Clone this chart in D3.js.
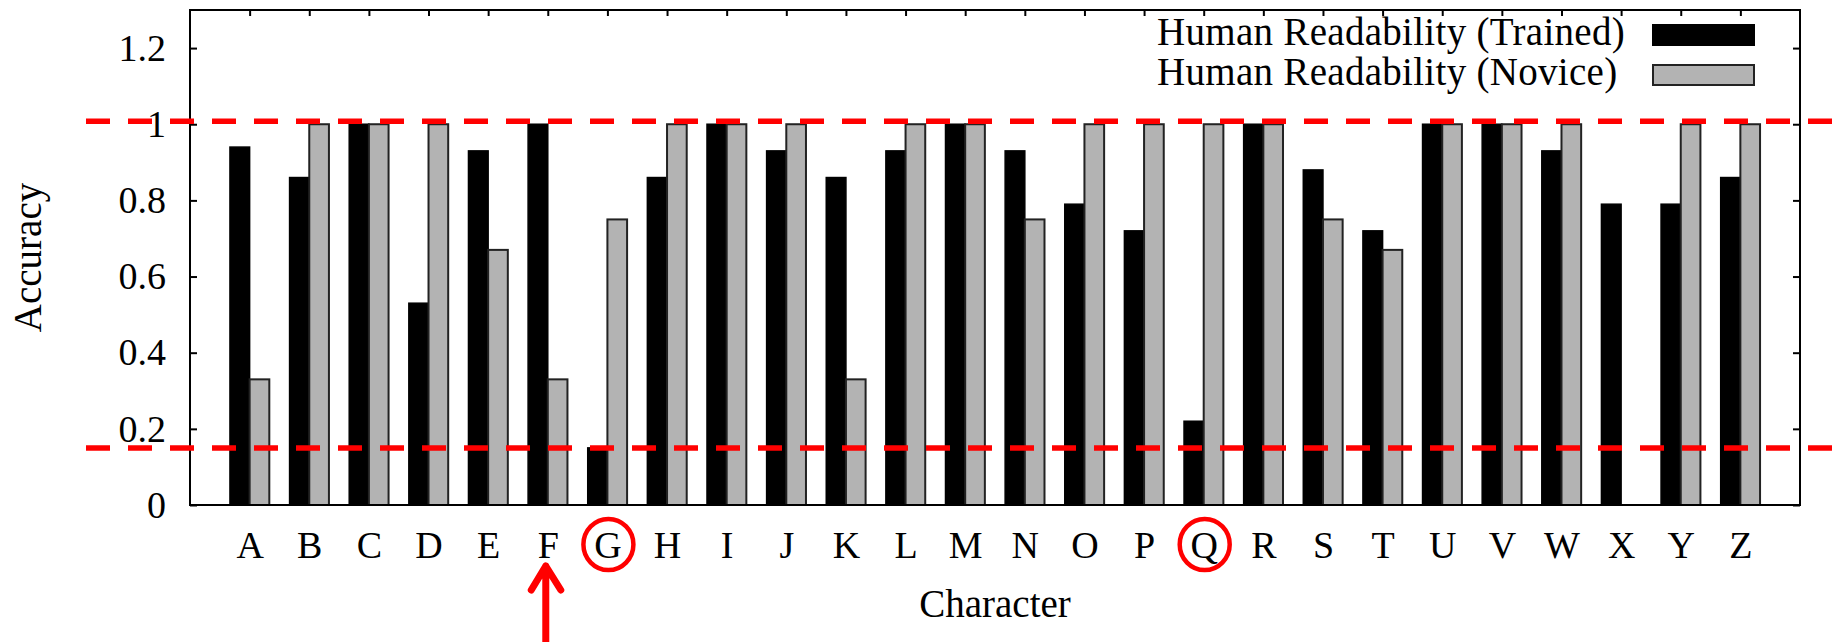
<!DOCTYPE html>
<html>
<head>
<meta charset="utf-8">
<script src="https://cdn.jsdelivr.net/npm/d3@7"></script>
<style>
  body { margin: 0; background: #fff; }
  text { font-family: "Liberation Serif", "Times New Roman", serif; fill: #000; }
</style>
</head>
<body>
<script>
const letters = ["A","B","C","D","E","F","G","H","I","J","K","L","M","N","O","P","Q","R","S","T","U","V","W","X","Y","Z"];
const trained = [0.94,0.86,1,0.53,0.93,1,0.15,0.86,1,0.93,0.86,0.93,1,0.93,0.79,0.72,0.22,1,0.88,0.72,1,1,0.93,0.79,0.79,0.86];
const novice  = [0.33,1,1,1,0.67,0.33,0.75,1,1,1,0.33,1,1,0.75,1,1,1,1,0.75,0.67,1,1,1,0,1,1];
const yTicks = [0, 0.2, 0.4, 0.6, 0.8, 1, 1.2];
const yTickLabels = ["0", "0.2", "0.4", "0.6", "0.8", "1", "1.2"];
const seriesNames = ["Human Readability (Trained)", "Human Readability (Novice)"];
// red dashed guide lines drawn over the chart
const guideLines = [1.008, 0.15];
const circled = ["G", "Q"];
const arrowAt = "F";

const w = 1839;
const h = 642;
const pLeft = 190, pRight = 1800, pTop = 10, pBottom = 505;
const fontSize = 39;

const x = d3.scaleLinear()
  .domain([-1, 26])
  .range([pLeft, pRight]);

const y = d3.scaleLinear()
  .domain([0, 1.3])
  .range([pBottom, pTop]);

const bw = 0.33;

const svg = d3.select("body")
  .append("svg")
  .attr("width", w)
  .attr("height", h);

svg.append("rect").attr("width", w).attr("height", h).attr("fill", "#fff");

//bars
const bars = svg.append("g");
bars.selectAll("rect.trained")
  .data(trained).enter()
  .append("rect")
  .attr("class", "trained")
  .attr("x", (d, i) => x(i - bw))
  .attr("width", x(bw) - x(0))
  .attr("y", d => y(d))
  .attr("height", d => y(0) - y(d))
  .attr("fill", "#000")
  .attr("stroke", "#000")
  .attr("stroke-width", 1.5);

bars.selectAll("rect.novice")
  .data(novice).enter()
  .append("rect")
  .attr("class", "novice")
  .attr("x", (d, i) => x(i))
  .attr("width", x(bw) - x(0))
  .attr("y", d => y(d))
  .attr("height", d => y(0) - y(d))
  .attr("fill", d => d > 0 ? "#b3b3b3" : "none")
  .attr("stroke", d => d > 0 ? "#222" : "none")
  .attr("stroke-width", 2);

//axes
const idx = d3.range(letters.length);

svg.append("g")
  .attr("transform", `translate(${pLeft},0)`)
  .call(d3.axisLeft(y).tickValues(yTicks).tickSize(-7).tickPadding(24)
    .tickFormat((d, i) => yTickLabels[i]))
  .call(g => g.select(".domain").remove())
  .call(g => g.selectAll("line").attr("stroke", "#000").attr("stroke-width", 2))
  .call(g => g.selectAll("text").attr("font-size", 38).attr("font-family", null).attr("fill", "#000"));

svg.append("g")
  .attr("transform", `translate(${pRight},0)`)
  .call(d3.axisRight(y).tickValues(yTicks).tickSize(-7).tickFormat(""))
  .call(g => g.select(".domain").remove())
  .call(g => g.selectAll("line").attr("stroke", "#000").attr("stroke-width", 2));

svg.append("g")
  .attr("transform", `translate(0,${pTop})`)
  .call(d3.axisTop(x).tickValues(idx).tickSize(-6).tickFormat(""))
  .call(g => g.select(".domain").remove())
  .call(g => g.selectAll("line").attr("stroke", "#000").attr("stroke-width", 2));

svg.append("g")
  .attr("transform", `translate(0,${pBottom})`)
  .call(d3.axisBottom(x).tickValues(idx).tickSize(0).tickPadding(26)
    .tickFormat(i => letters[i]))
  .call(g => g.select(".domain").remove())
  .call(g => g.selectAll("text").attr("font-size", 38).attr("font-family", null).attr("fill", "#000"));

//frame
svg.append("rect")
  .attr("x", pLeft)
  .attr("y", pTop)
  .attr("width", pRight - pLeft)
  .attr("height", pBottom - pTop)
  .attr("fill", "none")
  .attr("stroke", "#000")
  .attr("stroke-width", 2);

//axis titles
svg.append("text")
  .attr("transform", `translate(41,${(pTop + pBottom) / 2}) rotate(-90)`)
  .attr("text-anchor", "middle")
  .attr("font-size", fontSize)
  .text("Accuracy");

svg.append("text")
  .attr("x", (pLeft + pRight) / 2)
  .attr("y", 617)
  .attr("text-anchor", "middle")
  .attr("font-size", fontSize)
  .text("Character");

//legend
const legend = svg.append("g");
const legendFill = ["#000", "#b3b3b3"];
const legendStroke = ["#000", "#222"];
seriesNames.forEach((name, i) => {
  legend.append("text")
    .attr("x", 1157)
    .attr("y", 45 + i * 40)
    .attr("font-size", fontSize)
    .attr("letter-spacing", 0.3)
    .text(name);
  legend.append("rect")
    .attr("x", 1653)
    .attr("y", 25 + i * 40)
    .attr("width", 101)
    .attr("height", 20)
    .attr("fill", legendFill[i])
    .attr("stroke", legendStroke[i])
    .attr("stroke-width", 2);
});

//red annotations
const red = "#ff0000";
svg.append("g").selectAll("line")
  .data(guideLines).enter()
  .append("line")
  .attr("x1", 86)
  .attr("x2", w)
  .attr("y1", d => y(d))
  .attr("y2", d => y(d))
  .attr("stroke", red)
  .attr("stroke-width", 5.5)
  .attr("stroke-dasharray", "24 18");

svg.append("g").selectAll("ellipse")
  .data(circled).enter()
  .append("ellipse")
  .attr("cx", d => x(letters.indexOf(d)) + 1)
  .attr("cy", 544.5)
  .attr("rx", 25)
  .attr("ry", 25.6)
  .attr("fill", "none")
  .attr("stroke", red)
  .attr("stroke-width", 4.5);

const ax = x(letters.indexOf(arrowAt)) - 2;
svg.append("path")
  .attr("d", `M${ax},${h + 5} L${ax},566 M${ax - 14.5},590 L${ax},566 L${ax + 15},590`)
  .attr("fill", "none")
  .attr("stroke", red)
  .attr("stroke-width", 7)
  .attr("stroke-linecap", "round")
  .attr("stroke-linejoin", "round");
</script>
</body>
</html>
